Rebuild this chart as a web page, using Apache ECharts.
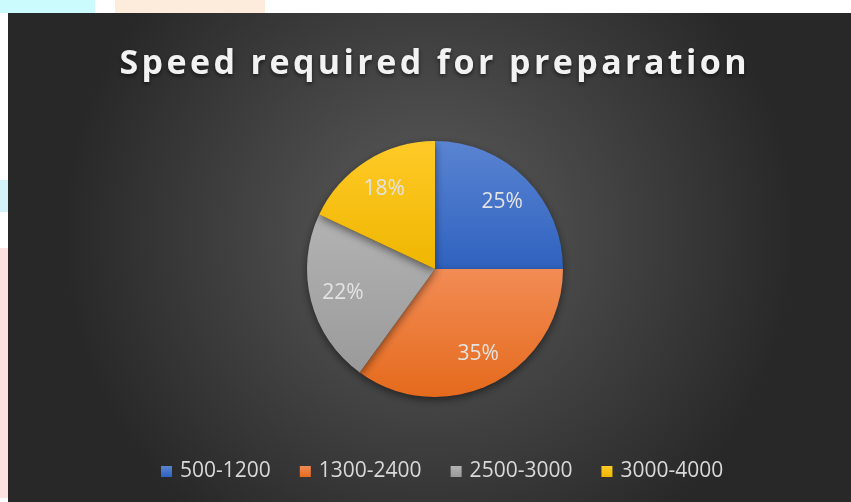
<!DOCTYPE html>
<html>
<head>
<meta charset="utf-8">
<script src="https://cdn.jsdelivr.net/npm/echarts@6/dist/echarts.min.js"></script>
<style>
html,body{margin:0;padding:0;background:#fff;}
#main{width:851px;height:502px;}
</style>
</head>
<body>
<div id="main"></div>
<script>
var chartTitle = 'Speed required for preparation';
var categories = ['500-1200', '1300-2400', '2500-3000', '3000-4000'];
var shares = [25, 35, 22, 18];
var sliceColors = [
    ['#5a84d2', '#2f62bf'],
    ['#f28c55', '#e56a1c'],
    ['#b3b3b3', '#9a9a9a'],
    ['#ffca28', '#efb600']
];

function grad(c) {
    return new echarts.graphic.LinearGradient(0, 0, 0, 1, [
        {offset: 0, color: c[0]},
        {offset: 1, color: c[1]}
    ]);
}

var myChart = echarts.init(document.getElementById('main'));

var mainData = categories.map(function (name, i) {
    return {value: shares[i], name: name, itemStyle: {color: grad(sliceColors[i])}};
});
var labelData = categories.map(function (name, i) {
    return {value: shares[i], name: name};
});

var option = {
    animation: false,
    graphic: [
        // bits of the page behind the chart
        {type: 'rect', z: -20, shape: {x: 0, y: 0, width: 95, height: 13}, style: {fill: '#ccfbfd'}},
        {type: 'rect', z: -20, shape: {x: 115, y: 0, width: 150, height: 13}, style: {fill: '#fdebdc'}},
        {type: 'rect', z: -20, shape: {x: 0, y: 180, width: 8, height: 32}, style: {fill: '#d3f3fb'}},
        {type: 'rect', z: -20, shape: {x: 0, y: 248, width: 8, height: 250}, style: {fill: '#fde2e2'}},
        {
            type: 'rect', z: -10,
            shape: {x: 8, y: 13, width: 843, height: 489},
            style: {
                fill: new echarts.graphic.RadialGradient(0.5, 0.45, 0.75, [
                    {offset: 0, color: '#5c5c5c'},
                    {offset: 1, color: '#282828'}
                ])
            }
        }
    ],
    title: {
        // hair spaces to mimic the wide tracking
        text: chartTitle.split('').join('\u200A'),
        left: 428,
        textAlign: 'center',
        top: 42,
        textStyle: {
            color: '#f2f2f2',
            fontFamily: 'Open Sans',
            fontWeight: 'bold',
            fontSize: 34,
            textShadowColor: 'rgba(0,0,0,0.6)',
            textShadowBlur: 4,
            textShadowOffsetY: 2
        }
    },
    legend: {
        data: categories,
        bottom: 15,
        left: 156,
        itemWidth: 11,
        itemHeight: 11,
        itemGap: 29,
        icon: 'rect',
        textStyle: {color: '#d9d9d9', fontFamily: 'Open Sans', fontSize: 21, padding: [0, 0, 0, 3]}
    },
    series: [
        {
            name: 'speed',
            type: 'pie',
            center: [435, 269],
            radius: [0, 128],
            startAngle: 90,
            clockwise: true,
            data: mainData,
            label: {show: false},
            labelLine: {show: false},
            itemStyle: {
                borderWidth: 0,
                shadowColor: 'rgba(0,0,0,0.5)',
                shadowBlur: 8,
                shadowOffsetY: 3
            }
        },
        {
            name: 'labels',
            type: 'pie',
            center: [435, 269],
            radius: [0, 184],
            startAngle: 90,
            clockwise: true,
            silent: true,
            legendHoverLink: false,
            data: labelData,
            itemStyle: {color: 'rgba(0,0,0,0)'},
            label: {
                show: true,
                position: 'inside',
                formatter: '{c}%',
                color: '#e3e3e3',
                fontFamily: 'Open Sans',
                fontSize: 21
            },
            labelLine: {show: false}
        }
    ]
};

myChart.setOption(option);
</script>
</body>
</html>
